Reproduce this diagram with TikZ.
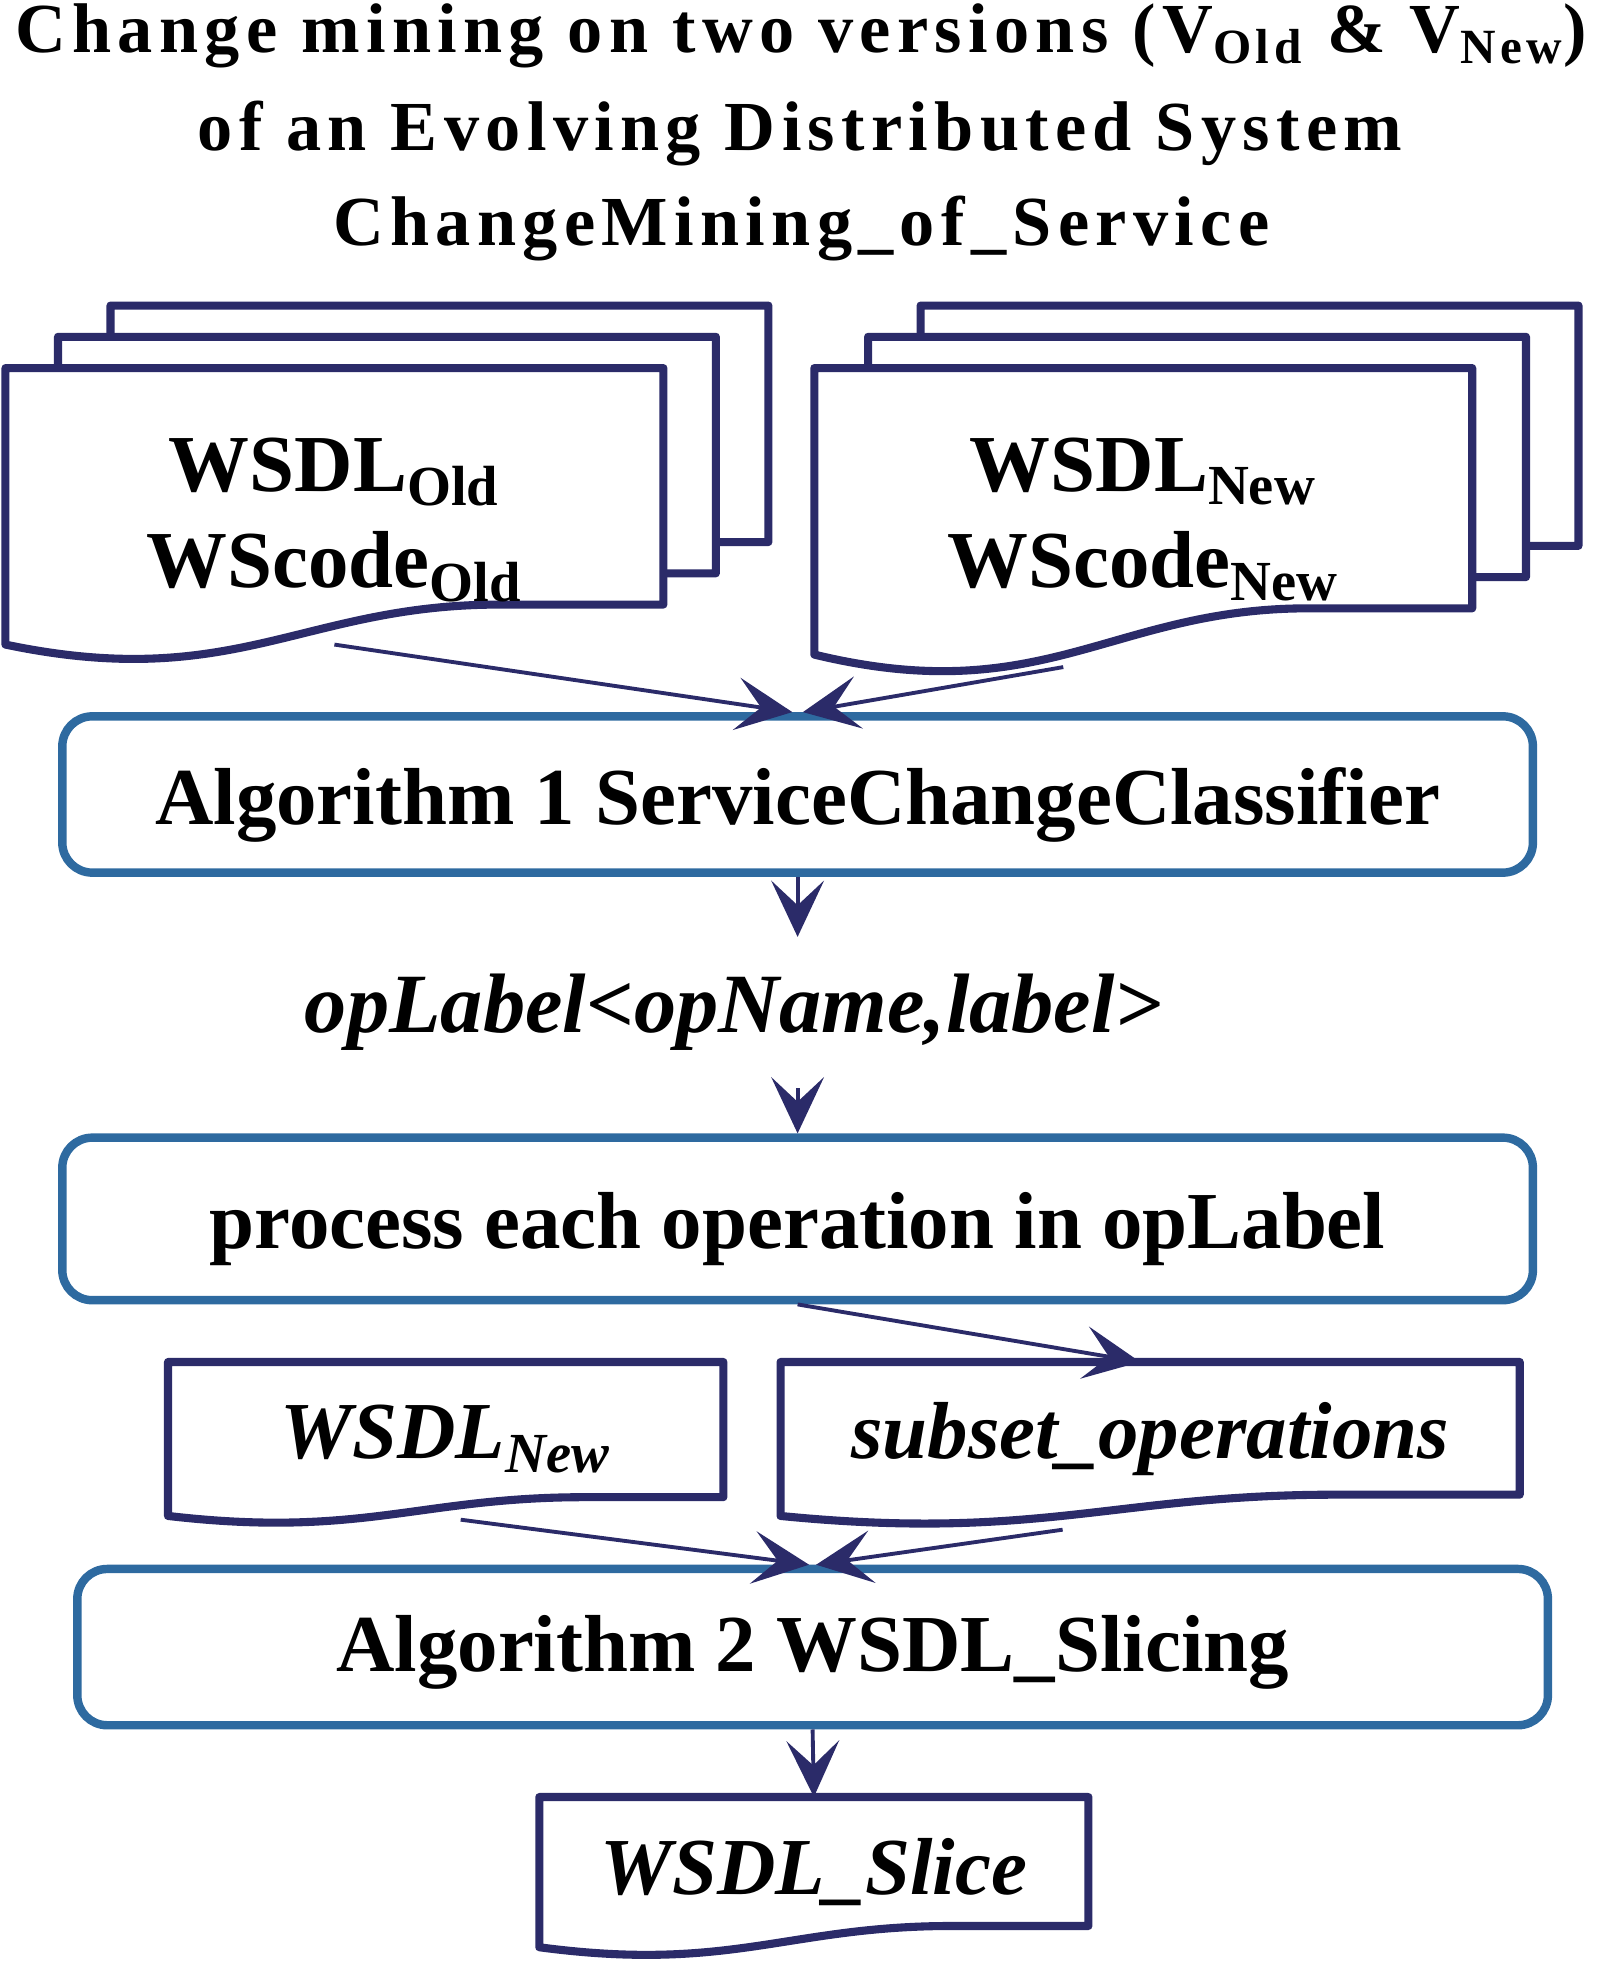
\documentclass[tikz,border=0pt]{standalone}
\usepackage{fontspec}
\setmainfont{Liberation Serif}
\newfontfamily\titlefont{Liberation Serif}[LetterSpace=9]
\usetikzlibrary{arrows.meta,positioning,backgrounds}
\definecolor{docblue}{RGB}{43,43,105}
\definecolor{boxblue}{RGB}{46,106,160}

\tikzset{
  docline/.style={draw=docblue,fill=white,line width=2.3pt,line join=round},
  docnode/.style={inner sep=0pt,align=center,font=\fontsize{23}{27.3}\selectfont\bfseries},
  itdoc/.style={docnode,font=\fontsize{23}{27.3}\selectfont\bfseries\itshape},
  procbox/.style={draw=boxblue,line width=2.4pt,rounded corners=0.3cm,
        minimum width=14.7cm,minimum height=1.5625cm,text height=17pt,text depth=0pt,
        font=\fontsize{23}{27}\selectfont\bfseries},
  titletxt/.style={inner sep=0pt,anchor=base,font=\fontsize{20}{27}\titlefont\bfseries},
  flow/.style={->,draw=docblue,line width=1.1pt}
}

% document outline: node, shift, width, rise of the right edge
\newcommand{\docpath}[4]{%
  \path[docline] ([shift={#2}]#1.north west) -- ([shift={#2}]#1.north east)
    -- ([shift={#2},shift={(0,{-#4})}]#1.south east)
    -- ([shift={#2},shift={({-0.25*#3},{-#4})}]#1.south east)
    .. controls ([shift={#2},shift={({-0.55*#3},{-#4})}]#1.south east)
    and ([shift={#2},shift={({0.35*#3},{1.2*#4})}]#1.south west)
    .. ([shift={#2}]#1.south west) -- cycle;}

\begin{document}
\begin{tikzpicture}[x=0.0125cm,y=-0.0125cm,
        >={Stealth[length=16pt,width=15pt,inset=7pt]}]
    \useasboundingbox (0,0) rectangle (1280,1571);

    % title
    \node[titletxt] (title1) at (641,42) {Change mining on two versions (V\textsubscript{Old} \& V\textsubscript{New})};
    \node[titletxt] (title2) at (640,120) {of an Evolving Distributed System};
    \node[titletxt] (title3) at (641,196) {ChangeMining\_of\_Service};

    % input documents
    \node[docnode,minimum width=6.5625cm,minimum height=2.75cm] (olddoc) at (267.5,405)
        {\rule{0pt}{23pt}WSDL\textsubscript{Old}\\WScode\textsubscript{Old}};
    \node[docnode,minimum width=6.5625cm,minimum height=2.85cm] (newdoc) at (914.5,409)
        {\rule{0pt}{20pt}WSDL\textsubscript{New}\\WScode\textsubscript{New}};

    \node[procbox] (alg1) at (638,635.5) {Algorithm 1 ServiceChangeClassifier};
    \node[itdoc,minimum height=1.5cm,font=\fontsize{24}{27}\selectfont\bfseries\itshape] (oplabel) at (587,810)
        {opLabel<opName,label>};
    \node[procbox,minimum height=1.625cm] (proc) at (638,975) {process each operation in opLabel};

    \node[itdoc,minimum width=5.5375cm,minimum height=1.525cm] (wsdlnew) at (356.5,1151)
        {WSDL\textsubscript{New}};
    \node[itdoc,minimum width=7.375cm,minimum height=1.525cm] (subset) at (920,1151)
        {subset\_operations};

    \node[procbox,text height=14pt] (alg2) at (650,1317.5) {Algorithm 2 WSDL\_Slicing};
    \node[itdoc,minimum width=5.475cm,minimum height=1.4875cm] (slice) at (651,1497.5)
        {WSDL\_Slice};

    \begin{scope}[on background layer]
        \docpath{olddoc}{(84,-50)}{525}{32}
        \docpath{olddoc}{(42,-25)}{525}{32}
        \docpath{olddoc}{(0,0)}{525}{32}
        \docpath{newdoc}{(85,-50)}{525}{37}
        \docpath{newdoc}{(43,-25)}{525}{37}
        \docpath{newdoc}{(0,0)}{525}{37}
        \docpath{wsdlnew}{(0,0)}{443}{15}
        \docpath{subset}{(0,0)}{590}{17}
        \docpath{slice}{(0,0)}{438}{17}
    \end{scope}

    \draw[flow] (olddoc.south) -- ([xshift=-1.5pt]alg1.north);
    \draw[flow] ([shift={(-64,10)}]newdoc.south) -- ([xshift=1.5pt]alg1.north);
    \draw[flow] (alg1.south) -- (alg1.south |- oplabel.north);
    \draw[flow] (proc.north |- oplabel.south) -- (proc.north);
    \draw[flow] (proc.south) -- ([xshift=-0.1cm]subset.north);
    \draw[flow] ([shift={(12,3)}]wsdlnew.south) -- ([xshift=-1pt]alg2.north);
    \draw[flow] ([shift={(-70,11)}]subset.south) -- ([xshift=1pt]alg2.north);
    \draw[flow] (alg2.south) -- (slice.north);

\end{tikzpicture}
\end{document}
